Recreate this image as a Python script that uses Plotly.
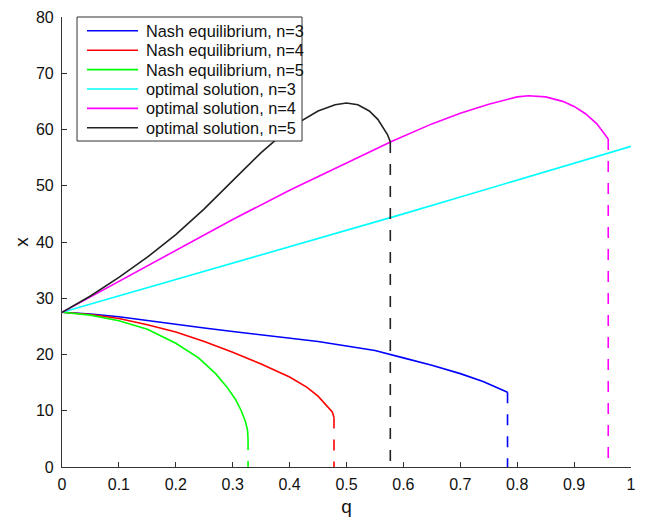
import plotly.graph_objects as go

# Nash equilibrium curves
q_nash3 = [0, 0.05, 0.1, 0.15, 0.2, 0.25, 0.3, 0.35, 0.4, 0.45, 0.5, 0.55, 0.6, 0.65, 0.7, 0.74, 0.76, 0.783]
x_nash3 = [27.5, 27.2, 26.7, 26.0, 25.3, 24.7, 24.1, 23.5, 22.9, 22.3, 21.5, 20.7, 19.4, 18.1, 16.6, 15.2, 14.3, 13.3]

q_nash4 = [0, 0.05, 0.1, 0.15, 0.2, 0.25, 0.3, 0.35, 0.4, 0.43, 0.45, 0.465, 0.475, 0.478]
x_nash4 = [27.5, 27.1, 26.4, 25.3, 24.0, 22.3, 20.4, 18.3, 16.0, 14.2, 12.6, 11.0, 9.8, 8.8]

q_nash5 = [0, 0.05, 0.1, 0.15, 0.2, 0.24, 0.27, 0.29, 0.305, 0.315, 0.322, 0.326, 0.327]
x_nash5 = [27.5, 27.0, 26.0, 24.5, 22.0, 19.4, 16.6, 14.2, 12.0, 10.0, 8.2, 6.6, 5.0]

# Optimal solution curves
q_opt3 = [0, 0.1, 0.2, 0.3, 0.4, 0.5, 0.6, 0.7, 0.8, 0.9, 1.0]
x_opt3 = [27.5, 30.4, 33.3, 36.2, 39.2, 42.1, 45.0, 48.0, 51.0, 54.0, 57.0]

q_opt4 = [0, 0.1, 0.2, 0.3, 0.4, 0.5, 0.58, 0.65, 0.7, 0.75, 0.8, 0.82, 0.85, 0.88, 0.9, 0.92, 0.94, 0.96]
x_opt4 = [27.5, 33.0, 38.6, 44.0, 49.2, 54.0, 57.9, 61.0, 62.9, 64.5, 65.8, 66.0, 65.8, 65.0, 64.1, 62.8, 61.0, 58.3]

q_opt5 = [0, 0.05, 0.1, 0.15, 0.2, 0.25, 0.3, 0.35, 0.4, 0.45, 0.48, 0.5, 0.52, 0.54, 0.555, 0.565, 0.572, 0.577]
x_opt5 = [27.5, 30.4, 33.7, 37.3, 41.3, 45.9, 50.9, 55.9, 60.3, 63.3, 64.4, 64.7, 64.4, 63.3, 61.8, 60.3, 59.1, 57.8]

names = ["Nash equilibrium, n=3", "Nash equilibrium, n=4", "Nash equilibrium, n=5",
         "optimal solution, n=3", "optimal solution, n=4", "optimal solution, n=5"]
colors = ["#0000ff", "#ff0000", "#00ff00", "#00ffff", "#ff00ff", "#222222"]
series = [(q_nash3, x_nash3), (q_nash4, x_nash4), (q_nash5, x_nash5),
          (q_opt3, x_opt3), (q_opt4, x_opt4), (q_opt5, x_opt5)]
# which series drop with a dashed vertical to zero
drops = [True, True, True, False, True, True]

x_ticks = [0, 0.1, 0.2, 0.3, 0.4, 0.5, 0.6, 0.7, 0.8, 0.9, 1]
x_ticklabels = ["0", "0.1", "0.2", "0.3", "0.4", "0.5", "0.6", "0.7", "0.8", "0.9", "1"]
y_ticks = [0, 10, 20, 30, 40, 50, 60, 70, 80]

FONT = "Liberation Sans, Arial, Helvetica, sans-serif"
LW = 1.6

fig = go.Figure()
for name, col, (qs, xs) in zip(names, colors, series):
    fig.add_trace(go.Scatter(x=qs, y=xs, mode="lines", name=name,
                             line=dict(color=col, width=LW), showlegend=False))
for name, col, (qs, xs), d in zip(names, colors, series, drops):
    if d:
        fig.add_trace(go.Scatter(x=[qs[-1], qs[-1]], y=[xs[-1], 0], mode="lines",
                                 name=name + " (drop)",
                                 line=dict(color=col, width=LW, dash="11px,11px"),
                                 showlegend=False))

# Legend box drawn in paper coordinates (MATLAB-style legend)
box_x0, box_x1, box_y0, box_y1 = 0.0264, 0.4218, 0.7244, 1.0
line_x0, line_x1, text_x = 0.0439, 0.1336, 0.1442
row_top, row_step = 0.9693, 0.0431
shapes = [dict(type="rect", xref="paper", yref="paper", x0=box_x0, x1=box_x1,
               y0=box_y0, y1=box_y1, line=dict(color="#333333", width=1),
               fillcolor="white", layer="above")]
annotations = []
for i, (name, col) in enumerate(zip(names, colors)):
    yy = row_top - i * row_step
    shapes.append(dict(type="line", xref="paper", yref="paper", x0=line_x0, x1=line_x1,
                       y0=yy, y1=yy, line=dict(color=col, width=LW), layer="above"))
    annotations.append(dict(xref="paper", yref="paper", x=text_x, y=yy, text=name,
                            showarrow=False, xanchor="left", yanchor="middle",
                            font=dict(family=FONT, size=16.3, color="#111111")))

axis_common = dict(showline=True, linecolor="#333333", linewidth=1.2, ticks="inside",
                   ticklen=5, tickcolor="#333333", tickwidth=1.2, showgrid=False,
                   zeroline=False, automargin=False,
                   tickfont=dict(family=FONT, size=16, color="#111111"))
fig.update_layout(
    width=646, height=520,
    margin=dict(l=62, r=15, t=17, b=53, autoexpand=False),
    paper_bgcolor="white", plot_bgcolor="white",
    font=dict(family=FONT, size=16, color="#111111"),
    xaxis=dict(range=[0, 1], tickvals=x_ticks, ticktext=x_ticklabels, ticklabelstandoff=3,
               title=dict(text="q", font=dict(size=19), standoff=7), **axis_common),
    yaxis=dict(range=[0, 80], tickvals=y_ticks, ticklabelstandoff=4,
               title=dict(text="x", font=dict(size=19), standoff=2), **axis_common),
    shapes=shapes,
    annotations=annotations,
    showlegend=False,
)
fig.write_html("out.html", config={"displayModeBar": False},
               post_script="document.body.style.margin='0px';document.body.style.overflow='hidden';")
